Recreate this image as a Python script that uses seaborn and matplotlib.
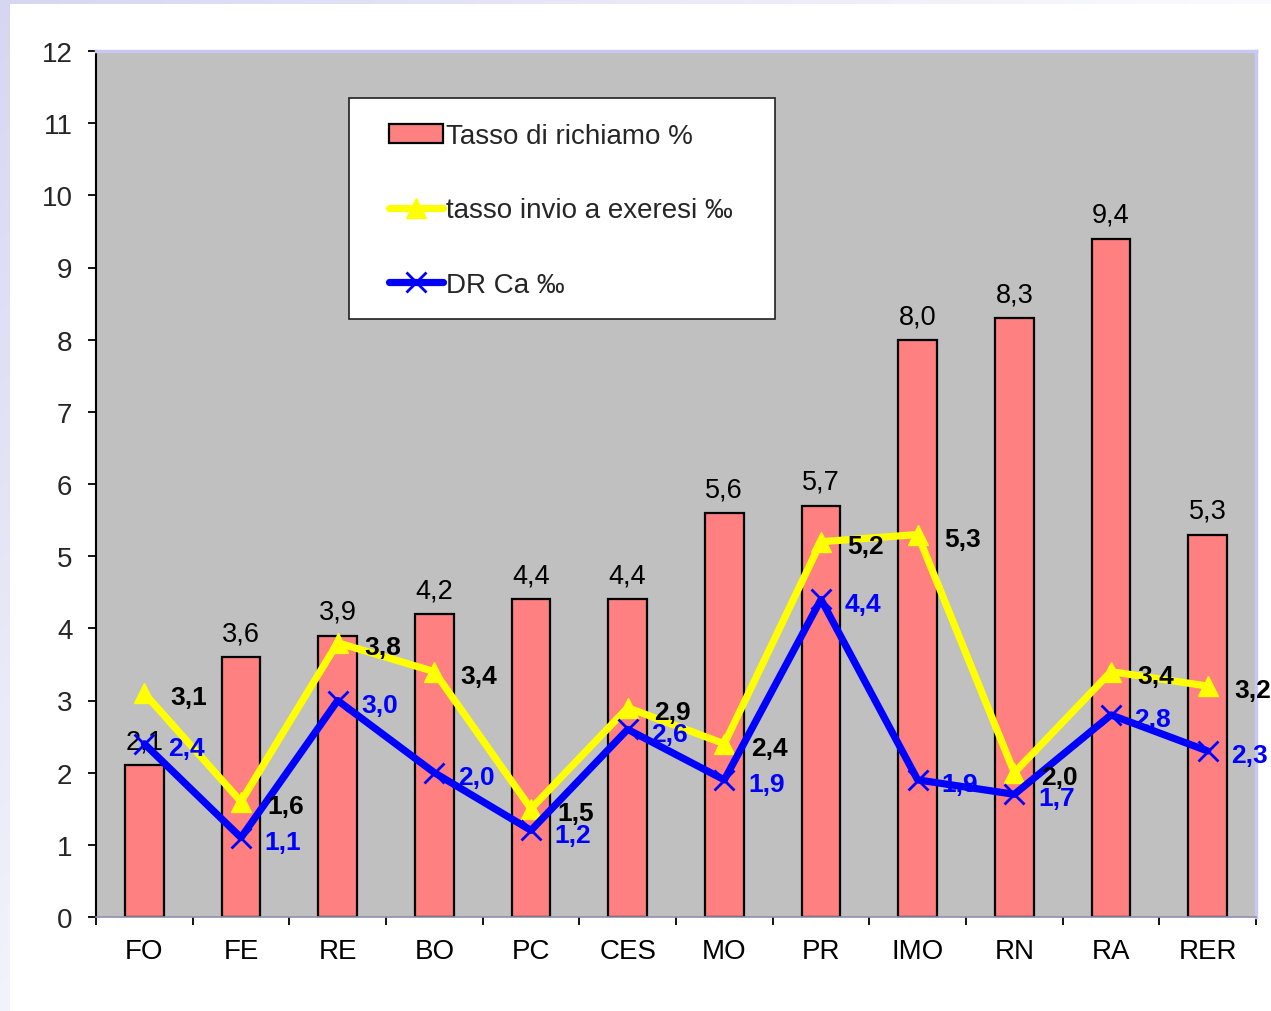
import numpy as np
import pandas as pd
import matplotlib
matplotlib.use("Agg")
import matplotlib.pyplot as plt
from matplotlib.patches import Rectangle
import seaborn as sns

# Data
categories = ["FO", "FE", "RE", "BO", "PC", "CES", "MO", "PR", "IMO", "RN", "RA", "RER"]
tasso_richiamo = [2.1, 3.6, 3.9, 4.2, 4.4, 4.4, 5.6, 5.7, 8.0, 8.3, 9.4, 5.3]
tasso_exeresi = [3.1, 1.6, 3.8, 3.4, 1.5, 2.9, 2.4, 5.2, 5.3, 2.0, 3.4, 3.2]
dr_ca = [2.4, 1.1, 3.0, 2.0, 1.2, 2.6, 1.9, 4.4, 1.9, 1.7, 2.8, 2.3]
yticks = list(range(0, 13))

label_bar = "Tasso di richiamo %"
label_exeresi = "tasso invio a exeresi \u2030"
label_dr = "DR Ca \u2030"

sns.set_style("white")
plt.rcParams["font.family"] = ["Liberation Sans", "DejaVu Sans"]

W, H = 1271, 1012
fig = plt.figure(figsize=(W / 100, H / 100), dpi=100)
fig.patch.set_facecolor("white")

# Soft lavender frame behind the slide
bg = fig.add_axes([0, 0, 1, 1], zorder=-10)
yy, xx = np.mgrid[0:H, 0:W]
t = np.clip(1 - (xx / W) * 0.9 - (yy / H) * 0.7, 0, 1)
lav = np.array([0.84, 0.84, 0.95])
img = 1 - (1 - lav)[None, None, :] * t[..., None]
bg.imshow(img, extent=[0, W, H, 0], aspect="auto")
bg.add_patch(Rectangle((10, 5), W - 10, H - 5, facecolor="white", edgecolor="none"))
bg.set_xlim(0, W)
bg.set_ylim(H, 0)
bg.axis("off")

ax = fig.add_axes([96 / W, (H - 918) / H, 1160 / W, 866 / H])
ax.set_facecolor("#C0C0C0")

df = pd.DataFrame({"cat": categories, "richiamo": tasso_richiamo})
sns.barplot(data=df, x="cat", y="richiamo", color="#FF8080", saturation=1,
            edgecolor="black", linewidth=1.6, width=0.4, ax=ax, zorder=2)
bar_handle = ax.patches[0]

fmt = lambda v: f"{v:.1f}".replace(".", ",")

for i, v in enumerate(tasso_richiamo):
    ax.annotate(fmt(v), (i, v), xytext=(0, 12), textcoords="offset points",
                ha="center", va="baseline", fontsize=19.5, color="black", zorder=3)

xs = np.arange(len(categories))
sns.lineplot(x=xs, y=tasso_exeresi, color="#FFFF00", lw=5.2, marker="^",
             markersize=15, markeredgecolor="#FFFF00", markeredgewidth=1,
             ax=ax, zorder=4)
line_y = ax.lines[-1]
sns.lineplot(x=xs, y=dr_ca, color="#0000FF", lw=5.2, marker="x",
             markersize=14, markeredgecolor="#0000FF", markeredgewidth=2,
             ax=ax, zorder=5)
line_b = ax.lines[-1]

for i, v in enumerate(tasso_exeresi):
    ax.annotate(fmt(v), (i, v), xytext=(19, -3), textcoords="offset points",
                ha="left", va="center", fontsize=19, fontweight="bold",
                color="black", zorder=6)
for i, v in enumerate(dr_ca):
    ax.annotate(fmt(v), (i, v), xytext=(17, -3), textcoords="offset points",
                ha="left", va="center", fontsize=19, fontweight="bold",
                color="#0000FF", zorder=6)

ax.set_xlim(-0.5, len(categories) - 0.5)
ax.set_ylim(0, 12)
ax.set_yticks(yticks)
ax.set_yticklabels([str(v) for v in yticks], fontsize=20)
ax.set_xticks(xs)
ax.set_xticklabels(categories, fontsize=20)
ax.set_xticks(np.arange(-0.5, len(categories), 1.0), minor=True)
ax.set_xlabel("")
ax.set_ylabel("")
ax.tick_params(axis="x", which="major", length=0, pad=15, colors="black")
ax.tick_params(axis="x", which="minor", length=6, width=1.3, color="black",
               direction="out", bottom=True)
ax.tick_params(axis="y", which="major", length=6, width=1.3, color="black",
               direction="out", pad=11, left=True)

for s in ["top", "right"]:
    ax.spines[s].set_visible(True)
    ax.spines[s].set_color("#C8C8F4")
    ax.spines[s].set_linewidth(2.5)
ax.spines["left"].set_color("black")
ax.spines["left"].set_linewidth(1.5)
ax.spines["bottom"].set_color("#9090B0")
ax.spines["bottom"].set_linewidth(1.2)

# Legend box
x0 = (349 - 96) / 1160
x1 = (775 - 96) / 1160
y1 = (918 - 99) / 866
y0 = (918 - 320) / 866
ax.add_patch(Rectangle((x0, y0), x1 - x0, y1 - y0, transform=ax.transAxes,
                       facecolor="white", edgecolor="#202020", linewidth=1.2,
                       zorder=7))
leg = ax.legend([bar_handle, line_y, line_b], [label_bar, label_exeresi, label_dr],
                loc="upper left", bbox_to_anchor=((389 - 96) / 1160, (918 - 124) / 866),
                frameon=False, fontsize=20, labelspacing=1.74, handlelength=1.95,
                handletextpad=0.12, borderpad=0, borderaxespad=0, numpoints=1)
leg.set_zorder(8)

fig.savefig("out.png", dpi=100)
